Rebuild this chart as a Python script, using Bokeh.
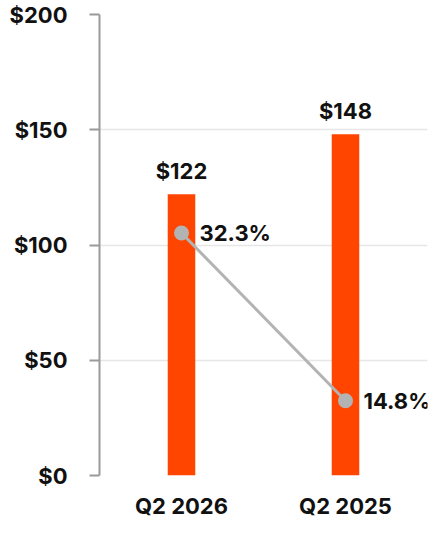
from bokeh.plotting import figure
from bokeh.models import ColumnDataSource, Range1d, FactorRange, FixedTicker
from bokeh.core.properties import value
from bokeh.embed import file_html
from bokeh.resources import INLINE

categories = ["Q2 2026", "Q2 2025"]
revenue = [122, 148]
revenue_labels = ["$122", "$148"]
margin = [32.3, 14.8]
margin_labels = ["32.3%", "14.8%"]
y_ticks = [0, 50, 100, 150, 200]
y_tick_labels = ["$0", "$50", "$100", "$150", "$200"]

FONT = "Inter"

src = ColumnDataSource(dict(cat=categories, rev=revenue, rlab=revenue_labels,
                            m=margin, mlab=margin_labels))

p = figure(x_range=FactorRange(*categories, range_padding=0), y_range=Range1d(0, 200),
           width=432, height=521, output_backend="svg", toolbar_location=None,
           min_border_left=99, min_border_right=5, min_border_top=14, min_border_bottom=45)
p.outline_line_color = None
p.background_fill_color = "white"
p.border_fill_color = "white"

p.extra_y_ranges = {"pct": Range1d(7.0, 55.1)}

p.vbar(x="cat", top="rev", width=0.168, source=src, color="#FF4500", line_color=None)

p.text(x="cat", y="rev", text="rlab", source=src, text_align="center", text_baseline="bottom",
       y_offset=-10, text_font=value(FONT), text_font_style="bold", text_font_size="22px",
       text_color="#111111")

p.line(x="cat", y="m", source=src, y_range_name="pct", line_color="#b3b3b3", line_width=3)
p.scatter(x="cat", y="m", source=src, y_range_name="pct", size=15, fill_color="#b3b3b3",
          line_color=None)
p.text(x="cat", y="m", text="mlab", source=src, y_range_name="pct", text_align="left",
       text_baseline="middle", x_offset=18, text_font=value(FONT), text_font_style="bold",
       text_font_size="22px", text_color="#111111")

# y axis
ya = p.yaxis[0]
ya.ticker = FixedTicker(ticks=y_ticks)
ya.major_label_overrides = {t: l for t, l in zip(y_ticks, y_tick_labels)}
ya.axis_line_color = "#9a9a9a"
ya.axis_line_width = 2
ya.major_tick_line_color = "#9a9a9a"
ya.major_tick_line_width = 2
ya.major_tick_in = 0
ya.major_tick_out = 10
ya.minor_tick_line_color = None
ya.major_label_standoff = 22
ya.major_label_text_font = FONT
ya.major_label_text_font_style = "bold"
ya.major_label_text_font_size = "22px"
ya.major_label_text_color = "#111111"

xa = p.xaxis[0]
xa.axis_line_color = None
xa.major_tick_line_color = None
xa.minor_tick_line_color = None
xa.major_label_standoff = 11
xa.major_label_text_font = FONT
xa.major_label_text_font_style = "bold"
xa.major_label_text_font_size = "22px"
xa.major_label_text_color = "#111111"

p.xgrid.grid_line_color = None
p.ygrid.grid_line_color = "#e6e6e6"
p.ygrid.grid_line_width = 1.5
p.ygrid.ticker = FixedTicker(ticks=y_ticks)

open("out.html", "w").write(file_html(p, INLINE))
